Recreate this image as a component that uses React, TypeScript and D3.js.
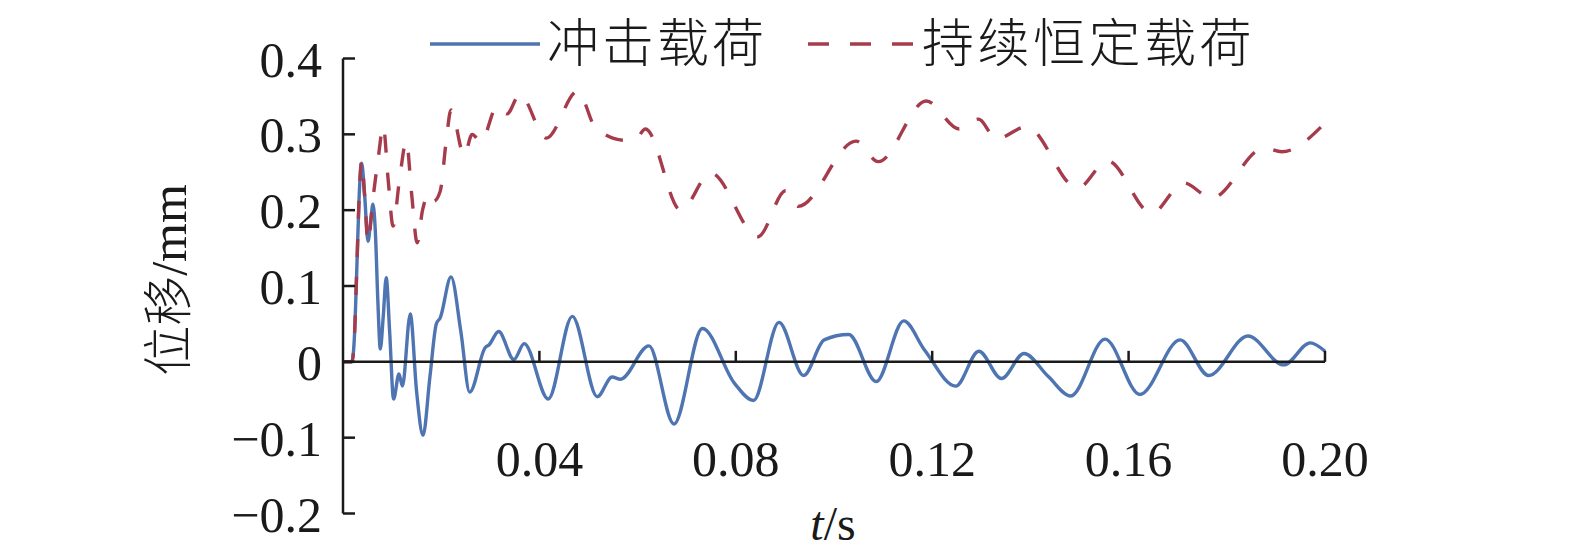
import React from "react";
import * as d3 from "d3";

// ---- data (t in s, displacement in mm) ----
const impactT = [0, 0.0018, 0.0023, 0.0028, 0.0033, 0.0038, 0.0044, 0.0051, 0.0057, 0.0061, 0.0066, 0.0071, 0.0076, 0.0082, 0.0088, 0.0095, 0.0103, 0.0114, 0.0121, 0.0137, 0.015, 0.0163, 0.0177, 0.019, 0.0198, 0.022, 0.024, 0.0258, 0.029, 0.0297, 0.0317, 0.0348, 0.0369, 0.0418, 0.0467, 0.0518, 0.0548, 0.0565, 0.0623, 0.0674, 0.0732, 0.0797, 0.0836, 0.0888, 0.0938, 0.098, 0.103, 0.1086, 0.1142, 0.1184, 0.1248, 0.1295, 0.1341, 0.1387, 0.1436, 0.1482, 0.1552, 0.1623, 0.1705, 0.1763, 0.1843, 0.1916, 0.197, 0.2];
const impactV = [0, 0, 0.03, 0.12, 0.22, 0.262, 0.22, 0.159, 0.19, 0.208, 0.17, 0.08, 0.017, 0.06, 0.111, 0.04, -0.049, -0.016, -0.032, 0.063, -0.04, -0.097, -0.02, 0.05, 0.058, 0.112, 0.04, -0.04, 0.019, 0.022, 0.04, 0.003, 0.024, -0.049, 0.06, -0.046, -0.02, -0.023, 0.021, -0.082, 0.044, -0.028, -0.051, 0.052, -0.018, 0.029, 0.036, -0.026, 0.054, 0.016, -0.032, 0.014, -0.022, 0.011, -0.019, -0.045, 0.03, -0.043, 0.029, -0.018, 0.034, -0.004, 0.025, 0.014];

const constT = [0, 0.0018, 0.0023, 0.0028, 0.0033, 0.0038, 0.0044, 0.0051, 0.0061, 0.0072, 0.0082, 0.0092, 0.0102, 0.0115, 0.0129, 0.014, 0.0151, 0.0162, 0.0175, 0.0185, 0.0198, 0.021, 0.022, 0.0247, 0.0263, 0.0281, 0.0314, 0.0334, 0.036, 0.0414, 0.0478, 0.0515, 0.0575, 0.0595, 0.0616, 0.0688, 0.0749, 0.0845, 0.0902, 0.0927, 0.1045, 0.109, 0.1188, 0.1255, 0.1294, 0.1331, 0.1392, 0.1496, 0.1557, 0.1647, 0.1712, 0.1769, 0.1876, 0.1912, 0.2];
const constV = [0, 0, 0.03, 0.12, 0.22, 0.265, 0.22, 0.158, 0.215, 0.27, 0.311, 0.24, 0.179, 0.24, 0.291, 0.22, 0.157, 0.2, 0.222, 0.212, 0.225, 0.29, 0.332, 0.272, 0.3, 0.29, 0.337, 0.327, 0.353, 0.295, 0.357, 0.308, 0.292, 0.293, 0.307, 0.2, 0.249, 0.165, 0.226, 0.205, 0.291, 0.264, 0.344, 0.307, 0.32, 0.294, 0.31, 0.229, 0.265, 0.196, 0.236, 0.216, 0.282, 0.277, 0.315];

const xTicks = [0.04, 0.08, 0.12, 0.16, 0.2];
const xTickLabels = ["0.04", "0.08", "0.12", "0.16", "0.20"];
const yTicks = [0.4, 0.3, 0.2, 0.1, 0, -0.1, -0.2];
const yTickLabels = ["0.4", "0.3", "0.2", "0.1", "0", "\u22120.1", "\u22120.2"];
const seriesNames = ["冲击载荷", "持续恒定载荷"];

const BLUE = "#4e74b1";
const RED = "#a63b4b";
const INK = "#1a1a1a";
const SERIF = "'Liberation Serif', 'Times New Roman', serif";
const CJK = "'Noto Sans CJK SC', 'Noto Sans CJK JP', sans-serif";

export default function App() {
  const W = 1575, H = 555;
  const x = d3.scaleLinear().domain([0, 0.2]).range([343, 1325]);
  const y = d3.scaleLinear().domain([-0.2, 0.4]).range([513.5, 58.5]);
  const line = d3
    .line<[number, number]>()
    .x((d) => x(d[0]))
    .y((d) => y(d[1]))
    .curve(d3.curveMonotoneX);
  const impact = impactT.map((t, i) => [t, impactV[i]] as [number, number]);
  const constant = constT.map((t, i) => [t, constV[i]] as [number, number]);
  const x0 = x(0);
  const y0 = y(0);

  return (
    <svg
      width={W}
      height={H}
      style={{ position: "absolute", left: 0, top: 0, display: "block", background: "#fff" }}
    >
      {/* series */}
      <path d={line(impact) || ""} fill="none" stroke={BLUE} strokeWidth={3.4} strokeLinejoin="round" />
      <path d={line(constant) || ""} fill="none" stroke={RED} strokeWidth={3.4} strokeDasharray="18 20" />

      {/* y axis */}
      <line x1={x0} x2={x0} y1={y(0.4)} y2={y(-0.2)} stroke={INK} strokeWidth={2.5} />
      {yTicks.map((v, i) => (
        <g key={"yt" + i}>
          <line x1={x0} x2={x0 + 12} y1={y(v)} y2={y(v)} stroke={INK} strokeWidth={2.5} />
          <text
            x={322}
            y={y(v)}
            dy="0.36em"
            textAnchor="end"
            fontFamily={SERIF}
            fontSize={50}
            fill={INK}
          >
            {yTickLabels[i]}
          </text>
        </g>
      ))}

      {/* x axis at zero */}
      <line x1={x0} x2={x(0.2)} y1={y0} y2={y0} stroke={INK} strokeWidth={2.5} />
      {xTicks.map((t, i) => (
        <g key={"xt" + i}>
          <line x1={x(t)} x2={x(t)} y1={y0} y2={y0 - 11} stroke={INK} strokeWidth={2.5} />
          <text x={x(t)} y={476} textAnchor="middle" fontFamily={SERIF} fontSize={50} fill={INK}>
            {xTickLabels[i]}
          </text>
        </g>
      ))}

      {/* axis titles */}
      <text x={833} y={540} textAnchor="middle" fontFamily={SERIF} fontSize={48} fill={INK}>
        <tspan fontStyle="italic">t</tspan>/s
      </text>
      <text
        transform="translate(168,280) rotate(-90)"
        textAnchor="middle"
        dy="0.36em"
        fontSize={50}
        fill={INK}
      >
        <tspan fontFamily={CJK} fontWeight={300}>位移</tspan>
        <tspan fontFamily={SERIF}>/mm</tspan>
      </text>

      {/* legend */}
      <line x1={430} x2={540} y1={44} y2={44} stroke={BLUE} strokeWidth={3.4} />
      <text x={547} y={62} fontFamily={CJK} fontWeight={300} fontSize={52} letterSpacing={3} fill={INK}>
        {seriesNames[0]}
      </text>
      <line x1={808} x2={914} y1={44} y2={44} stroke={RED} strokeWidth={3.4} strokeDasharray="21 21" />
      <text x={922} y={62} fontFamily={CJK} fontWeight={300} fontSize={52} letterSpacing={3.5} fill={INK}>
        {seriesNames[1]}
      </text>
    </svg>
  );
}
